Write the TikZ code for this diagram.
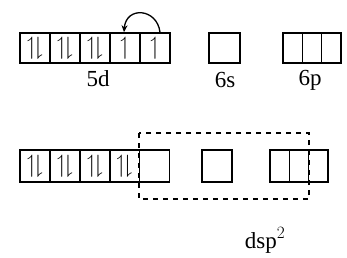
\documentclass[tikz,border=0pt]{standalone}
\usepackage{amssymb}
\usepackage{fontspec}
\setmainfont{Liberation Serif}
\usetikzlibrary{arrows.meta}
\begin{document}
\begin{tikzpicture}[x=1pt,y=-1pt,
  orb/.style={draw,line width=1.6pt,minimum height=30pt,inner sep=0pt,font=\fontsize{25}{25}\selectfont},
  wide/.style={orb,minimum width=30pt},
  narrow/.style={orb,minimum width=19.33pt},
  lbl/.style={font=\fontsize{23}{23}\selectfont,inner sep=0pt},
  dsh/.style={line width=1.6pt,dash pattern=on 5pt off 5pt}]
\useasboundingbox (0,0) rectangle (347,257);
\newcommand{\pr}{$\upharpoonleft\!\downharpoonright$}
\newcommand{\un}{$\upharpoonleft$}
% top row
\node[wide] (t1) at (35,48) {\pr};
\node[wide] (t2) at (65,48) {\pr};
\node[wide] (t3) at (95,48) {\pr};
\node[wide] (t4) at (125,48) {\un};
\node[wide] (t5) at (155,48) {\un};
\node[orb,minimum width=31pt] (ts) at (224.5,48) {};
\node[narrow] (tp1) at (292.7,48) {};
\node[narrow] (tp2) at (312,48) {};
\node[narrow] (tp3) at (331.3,48) {};
\node[lbl] (l5d) at (98,79) {5d};
\node[lbl] (l6s) at (225,80) {6s};
\node[lbl] (l6p) at (310,80) {6p};
\draw[line width=1.3pt,-{Stealth[length=7pt,width=6pt]}] ([xshift=5pt]t5.north) .. controls (157,8) and (126,6) .. ([xshift=-1pt]t4.north);
% bottom row
\begin{scope}[orb/.append style={minimum height=32pt}]
\node[wide] (b1) at (35,166) {\pr};
\node[wide] (b2) at (65,166) {\pr};
\node[wide] (b3) at (95,166) {\pr};
\node[wide] (b4) at (124.5,166) {\pr};
\node[wide] (b5) at (154.5,166) {};
\node[orb,minimum width=30pt] (bs) at (217,166) {};
\node[narrow] (bp1) at (279.7,166) {};
\node[narrow] (bp2) at (299,166) {};
\node[narrow] (bp3) at (318.3,166) {};
\end{scope}
\coordinate (r1) at (139,133);
\coordinate (r2) at (309,199);
\draw[dsh] (r1) rectangle (r2);
\node[lbl,anchor=base] (dsp) at (265,248) {dsp$^{2}$};
\end{tikzpicture}
\end{document}
